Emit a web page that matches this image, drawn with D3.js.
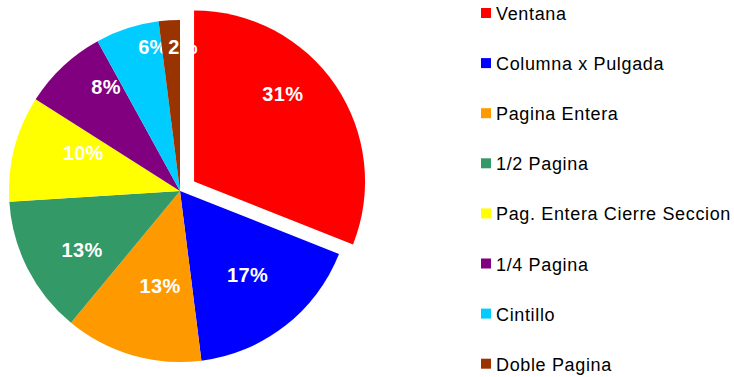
<!DOCTYPE html>
<html>
<head>
<meta charset="utf-8">
<script src="https://cdn.jsdelivr.net/npm/d3@7"></script>
<style>
  html, body { margin: 0; padding: 0; background: #fff; }
  svg { display: block; }
</style>
</head>
<body>
<svg id="chart" width="734" height="377"></svg>
<script>
// Ad-format share
const categories = [
  "Ventana",
  "Columna x Pulgada",
  "Pagina Entera",
  "1/2 Pagina",
  "Pag. Entera Cierre Seccion",
  "1/4 Pagina",
  "Cintillo",
  "Doble Pagina"
];
const shares = [31, 17, 13, 13, 10, 8, 6, 2];
const sliceColors = ["#FF0000", "#0000FF", "#FF9900", "#339966", "#FFFF00", "#800080", "#00CCFF", "#993300"];
const explodedSlices = ["Ventana"];

// Label placement around the pie: [angle in degrees clockwise from 12 o'clock, fraction of radius]
const labelPlacement = [
  [45.3, 0.73], [141.2, 0.63], [191.9, 0.567], [239.2, 0.667],
  [291.4, 0.608], [324.6, 0.746], [349.4, 0.86], [1.2, 0.845]
];

const svg = d3.select("#chart");
const cx = 180, cy = 191, radius = 171, explodeDist = 17;

const color = d3.scaleOrdinal().domain(categories).range(sliceColors);
const total = d3.sum(shares);
const data = categories.map((c, i) => ({ name: c, value: shares[i], idx: i }));

const pie = d3.pie().value(d => d.value).sort(null).startAngle(0).endAngle(2 * Math.PI);
const arc = d3.arc().innerRadius(0).outerRadius(radius);
const arcs = pie(data);

const pieG = svg.append("g").attr("transform", `translate(${cx},${cy})`);

function sliceOffset(a) {
  if (!explodedSlices.includes(a.data.name)) return [0, 0];
  const mid = (a.startAngle + a.endAngle) / 2;
  return [Math.sin(mid) * explodeDist, -Math.cos(mid) * explodeDist];
}

const slices = pieG.selectAll("g.slice").data(arcs).join("g")
  .attr("class", "slice")
  .attr("transform", d => { const o = sliceOffset(d); return `translate(${o[0]},${o[1]})`; });

slices.append("path")
  .attr("d", arc)
  .attr("fill", d => color(d.data.name));

slices.append("text")
  .attr("transform", d => {
    const p = labelPlacement[d.data.idx];
    const a = p[0] * Math.PI / 180, rr = p[1] * radius;
    return `translate(${Math.sin(a) * rr},${-Math.cos(a) * rr})`;
  })
  .attr("text-anchor", "middle")
  .attr("dy", "0.36em")
  .attr("font-family", "Liberation Sans, Arial, sans-serif")
  .attr("font-weight", "bold")
  .attr("font-size", 20)
  .attr("letter-spacing", 0.3)
  .attr("fill", "#fff")
  .text(d => Math.round(d.data.value / total * 100) + "%");

// Legend
const legend = svg.append("g").attr("transform", "translate(481,20)");
const rowY = d3.scalePoint().domain(categories).range([0, 350.7]);
const items = legend.selectAll("g").data(categories).join("g")
  .attr("transform", d => `translate(0,${rowY(d)})`);
items.append("rect")
  .attr("x", 0).attr("y", -12).attr("width", 10).attr("height", 10)
  .attr("fill", d => color(d));
items.append("text")
  .attr("x", 15).attr("y", 0)
  .attr("font-family", "Liberation Sans, Arial, sans-serif")
  .attr("font-size", 18)
  .attr("letter-spacing", 0.65)
  .attr("fill", "#000")
  .text(d => d);
</script>
</body>
</html>
